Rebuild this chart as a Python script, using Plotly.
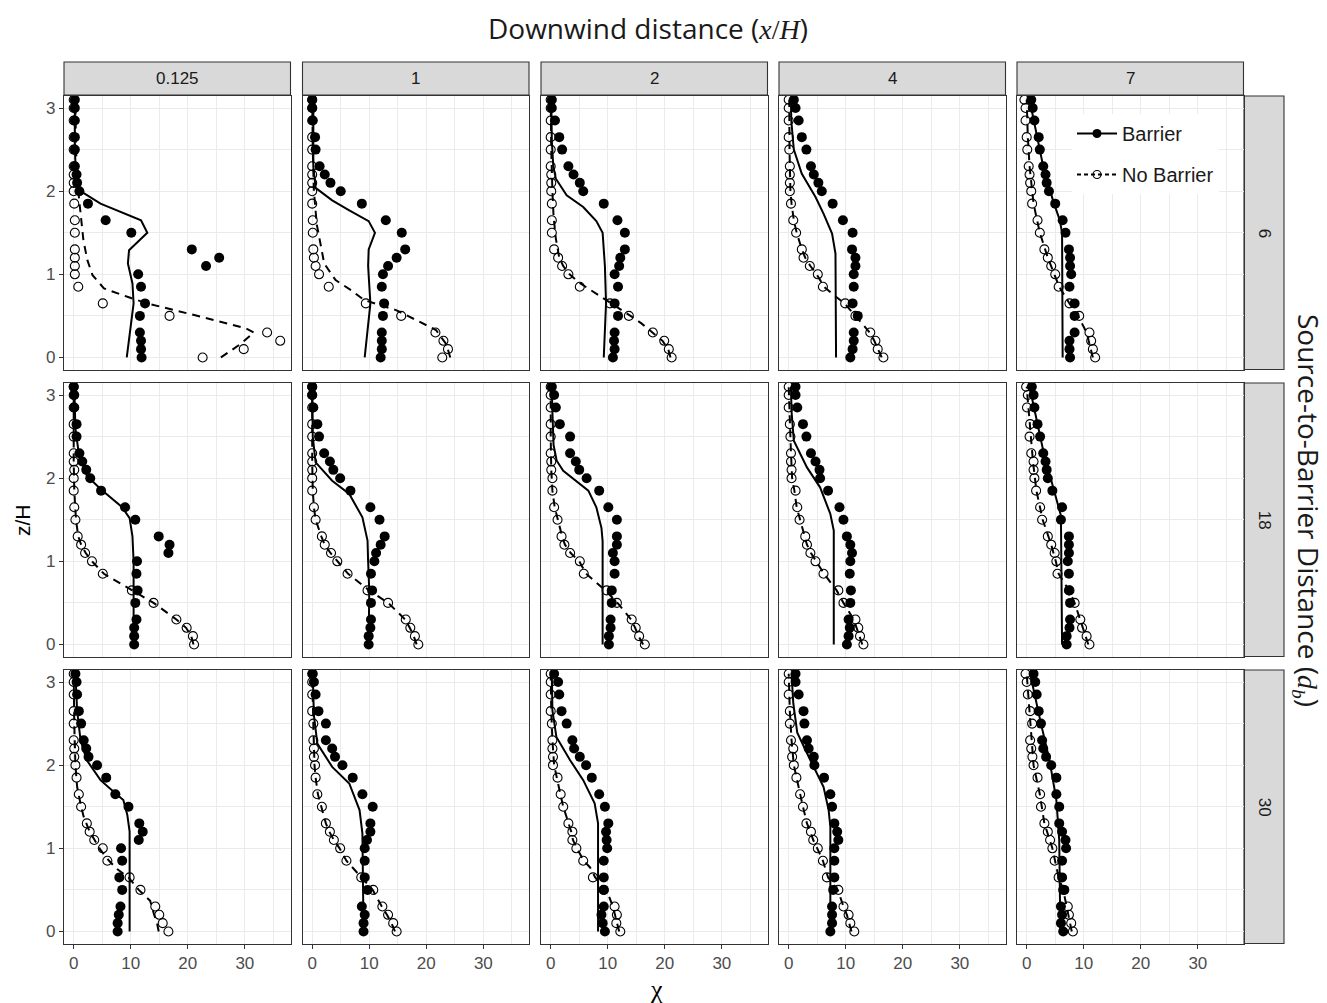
import plotly.graph_objects as go

# ---------------- data ----------------
col_labels = ["0.125", "1", "2", "4", "7"]          # downwind distance x/H
row_labels = ["6", "18", "30"]                      # source-to-barrier distance d_b
x_ticks = [0, 10, 20, 30]
y_ticks = [0, 1, 2, 3]

# measurement heights z/H (shared by all panels)
z_levels = [0, 0.1, 0.2, 0.3, 0.5, 0.65, 0.85, 1.0, 1.1, 1.2, 1.3, 1.5, 1.65,
            1.85, 2.0, 2.1, 2.2, 2.3, 2.5, 2.65, 2.85, 3.0, 3.1]

# measured chi, Barrier (filled) and No Barrier (open), per panel
barrier_pts_r1c1 = [11.9, 11.8, 11.8, 11.6, 11.6, 12.5, 11.8, 11.3, 23.2, 25.5, 20.7, 10.1, 5.6, 2.5, 1.0, 0.6, 0.5, 0.2, 0.2, 0.2, 0.2, 0.2, 0.2]
nobarrier_pts_r1c1 = [22.6, 29.8, 36.2, 33.9, 16.8, 5.1, 0.8, 0.2, 0.2, 0.2, 0.2, 0.2, 0.2, 0.1, 0.0, 0.0, 0, 0, 0, 0, 0, 0, 0]
barrier_pts_r1c2 = [12.0, 12.2, 12.2, 12.2, 12.4, 12.6, 12.2, 12.4, 13.3, 14.8, 16.3, 15.7, 12.9, 8.7, 5.0, 3.2, 2.2, 1.3, 0.6, 0.5, 0.1, 0.0, 0.0]
nobarrier_pts_r1c2 = [22.8, 23.8, 23.0, 21.6, 15.6, 9.4, 2.9, 1.2, 0.6, 0.3, 0.2, 0.1, 0.1, 0, 0, 0, 0, 0, 0, 0, 0, 0, 0]
barrier_pts_r1c3 = [10.9, 11.2, 11.1, 11.2, 11.8, 11.2, 11.8, 11.2, 12.0, 12.2, 13.0, 13.0, 11.7, 9.3, 5.7, 5.1, 4.0, 3.1, 2.0, 1.5, 0.75, 0.2, 0.2]
nobarrier_pts_r1c3 = [21.2, 20.7, 19.9, 17.9, 13.7, 10.4, 5.1, 3.1, 2.0, 1.3, 0.6, 0.2, 0.2, 0.2, 0.1, 0.1, 0.1, 0, 0, 0, 0, 0, 0]
barrier_pts_r1c4 = [10.8, 11.2, 11.4, 11.4, 12.1, 11.2, 11.4, 11.4, 11.7, 11.7, 11.1, 11.2, 9.5, 7.7, 5.8, 5.2, 4.4, 3.9, 3.1, 2.3, 1.75, 1.2, 0.9]
nobarrier_pts_r1c4 = [16.6, 15.6, 15.2, 14.3, 11.7, 9.9, 6.0, 5.1, 3.7, 2.6, 2.3, 1.3, 0.8, 0.4, 0.2, 0.2, 0.2, 0.2, 0.1, 0, 0, 0, 0]
barrier_pts_r1c5 = [7.6, 7.5, 7.5, 8.4, 8.4, 8.4, 7.5, 7.8, 7.6, 7.6, 7.4, 6.8, 6.3, 5.0, 3.9, 3.5, 3.3, 2.9, 2.3, 2.1, 1.35, 1.05, 0.8]
nobarrier_pts_r1c5 = [12.0, 11.6, 11.3, 11.0, 9.2, 7.5, 5.6, 5.0, 4.3, 3.7, 3.1, 2.3, 1.9, 0.95, 0.8, 0.6, 0.5, 0.35, 0.1, 0.0, -0.2, -0.2, -0.4]

barrier_pts_r2c1 = [10.6, 10.6, 10.6, 11.0, 10.8, 11.2, 11.0, 11.1, 16.6, 16.8, 14.9, 10.8, 9.0, 4.8, 2.9, 2.2, 1.5, 1.0, 0.5, 0.5, 0.1, 0.1, 0.0]
nobarrier_pts_r2c1 = [21.1, 20.9, 19.8, 18.0, 14.0, 10.2, 5.1, 3.2, 2.0, 1.3, 0.7, 0.3, 0.1, 0, 0, 0.1, 0, 0, 0, 0, 0, 0, 0]
barrier_pts_r2c2 = [9.9, 9.9, 10.2, 10.3, 10.3, 10.5, 10.3, 10.9, 11.2, 12.0, 12.7, 11.8, 10.2, 6.7, 4.9, 3.7, 3.1, 2.1, 1.2, 0.9, 0.2, 0.0, 0.0]
nobarrier_pts_r2c2 = [18.6, 18.0, 17.2, 16.4, 13.3, 9.7, 6.2, 4.4, 3.3, 2.2, 1.7, 0.6, 0.3, 0, 0, 0, 0, 0, 0, 0, 0, 0, 0]
barrier_pts_r2c3 = [10.2, 10.2, 10.5, 10.5, 10.7, 10.7, 11.2, 11.2, 10.9, 11.6, 11.6, 11.6, 10.1, 8.5, 6.3, 5.0, 4.4, 3.4, 3.4, 1.6, 0.9, 0.6, 0.2]
nobarrier_pts_r2c3 = [16.5, 15.5, 14.9, 14.2, 11.6, 9.8, 5.8, 5.1, 3.4, 2.4, 1.9, 1.2, 0.6, 0.3, 0.3, 0.1, 0.1, 0, 0, 0, 0, 0, 0]
barrier_pts_r2c4 = [10.2, 10.5, 10.7, 10.5, 10.8, 10.9, 10.7, 10.8, 11.1, 10.8, 10.2, 9.6, 8.9, 6.9, 5.5, 5.4, 4.7, 3.9, 3.1, 2.5, 1.5, 1.2, 1.2]
nobarrier_pts_r2c4 = [13.1, 12.5, 12.2, 11.7, 9.6, 8.7, 6.1, 4.7, 3.8, 3.2, 2.9, 1.9, 1.5, 1.2, 0.5, 0.5, 0.4, 0.4, 0.3, 0.2, 0, 0, 0]
barrier_pts_r2c5 = [7.0, 7.0, 7.5, 7.6, 7.6, 7.4, 7.4, 7.2, 7.4, 7.4, 7.4, 6.0, 6.2, 4.5, 3.7, 3.5, 3.3, 2.9, 2.35, 1.9, 1.35, 1.2, 0.9]
nobarrier_pts_r2c5 = [11.0, 10.5, 9.7, 9.4, 8.4, 7.5, 5.4, 5.2, 4.9, 4.3, 3.7, 2.7, 2.35, 1.65, 1.35, 1.2, 1.2, 0.8, 0.5, 0.6, 0.05, 0.2, -0.1]

barrier_pts_r3c1 = [7.7, 7.7, 7.9, 8.2, 8.5, 8.0, 8.5, 8.3, 11.4, 12.1, 11.5, 9.6, 7.3, 5.7, 4.1, 2.6, 2.2, 1.75, 1.3, 0.9, 0.6, 0.5, 0.3]
nobarrier_pts_r3c1 = [16.6, 15.6, 15.0, 14.3, 11.7, 9.8, 5.9, 5.1, 3.6, 2.8, 2.3, 1.3, 0.9, 0.5, 0.3, 0.1, 0.1, 0, 0, 0, 0, 0, 0]
barrier_pts_r3c2 = [9.0, 9.0, 9.2, 8.7, 9.7, 9.2, 9.2, 9.2, 9.6, 10.2, 10.2, 10.6, 8.8, 7.1, 5.3, 4.0, 3.5, 2.4, 2.4, 1.1, 0.6, 0.3, 0.1]
nobarrier_pts_r3c2 = [14.8, 14.2, 13.3, 12.3, 10.7, 8.6, 6.0, 4.9, 3.8, 3.1, 2.4, 1.7, 0.9, 0.6, 0.5, 0.3, 0.3, 0.2, 0.2, 0, 0, 0, 0]
barrier_pts_r3c3 = [9.5, 9.1, 8.9, 9.3, 9.3, 9.3, 9.3, 9.9, 9.8, 9.7, 10.1, 9.5, 8.5, 7.2, 6.2, 5.1, 4.1, 3.8, 2.8, 1.9, 1.5, 1.3, 0.6]
nobarrier_pts_r3c3 = [12.2, 11.5, 11.6, 11.2, 9.3, 7.4, 5.7, 4.5, 3.8, 3.8, 3.1, 2.2, 1.75, 1.2, 0.4, 0.4, 0.3, 0.3, 0.2, 0, 0, 0, 0]
barrier_pts_r3c4 = [7.3, 7.6, 7.6, 7.6, 7.8, 8.0, 8.0, 8.0, 8.7, 8.5, 8.0, 7.6, 7.3, 6.2, 4.5, 4.4, 3.5, 3.2, 2.75, 2.6, 1.75, 1.2, 1.2]
nobarrier_pts_r3c4 = [11.5, 10.8, 10.5, 9.6, 8.7, 6.7, 6.0, 5.1, 4.3, 3.9, 3.1, 2.5, 2.0, 1.35, 0.9, 0.6, 0.8, 0.4, 0.2, 0.2, 0, 0, 0]
barrier_pts_r3c5 = [6.4, 6.0, 6.2, 6.0, 6.6, 6.2, 6.2, 6.9, 6.8, 6.2, 5.7, 5.7, 5.2, 5.2, 4.3, 3.4, 2.9, 2.7, 2.5, 2.1, 1.75, 1.5, 1.2]
nobarrier_pts_r3c5 = [8.1, 7.8, 7.4, 7.2, 6.4, 5.6, 4.9, 4.5, 4.1, 3.7, 3.1, 2.5, 2.35, 1.9, 1.2, 1.0, 0.8, 0.6, 0.95, 0.6, 0.2, 0.0, -0.2]

# model curves as (z/H, chi) pairs
barrier_fit_r1c1 = [(0, 9.3), (0.33, 9.9), (0.65, 10.5), (0.89, 10.3), (1.13, 9.5), (1.29, 9.7), (1.5, 12.9), (1.65, 11.8), (1.85, 4.7), (2.0, 1.2), (2.2, 0.4), (2.5, 0.2), (3.1, 0.2)]
nobarrier_fit_r1c1 = [(0, 25.8), (0.15, 29.0), (0.3, 31.6), (0.35, 30.2), (0.49, 22.3), (0.57, 17.6), (0.65, 12.9), (0.73, 9.4), (0.83, 5.3), (0.99, 3.3), (1.17, 2.4), (1.41, 1.7), (1.63, 1.35), (1.83, 1.1), (2.0, 0.8), (2.5, 0.4), (3.1, 0.3)]
barrier_fit_r1c2 = [(0, 9.2), (0.3, 9.7), (0.65, 10.2), (1.1, 9.8), (1.3, 9.9), (1.5, 11.0), (1.64, 9.9), (1.77, 6.5), (1.89, 3.5), (2.04, 0.6), (2.3, 0.2), (3.1, 0.2)]
nobarrier_fit_r1c2 = [(0, 24.2), (0.16, 23.5), (0.33, 21.7), (0.45, 18.2), (0.57, 14.7), (0.69, 9.1), (0.81, 6.8), (0.93, 4.1), (1.13, 2.1), (1.35, 1.5), (1.6, 0.8), (2.0, 0.3), (2.5, 0.1), (3.1, 0.0)]
barrier_fit_r1c3 = [(0, 9.3), (0.65, 9.7), (1.1, 9.5), (1.5, 9.1), (1.64, 8.0), (1.81, 5.7), (1.95, 2.8), (2.15, 0.9), (2.3, 0.45), (2.6, 0.2), (3.1, 0.1)]
nobarrier_fit_r1c3 = [(0, 21.0), (0.1, 20.6), (0.2, 19.6), (0.33, 17.4), (0.41, 15.9), (0.5, 14.0), (0.65, 10.6), (0.77, 8.0), (0.9, 5.0), (1.0, 3.3), (1.1, 2.2), (1.2, 1.5), (1.43, 0.9), (1.7, 0.5), (2.0, 0.3), (2.5, 0.1), (3.1, 0.0)]
barrier_fit_r1c4 = [(0, 8.3), (1.0, 8.3), (1.25, 8.2), (1.49, 7.6), (1.73, 6.1), (1.93, 4.7), (2.21, 2.3), (2.5, 0.9), (2.85, 0.45), (3.1, 0.4)]
nobarrier_fit_r1c4 = [(0, 16.3), (0.1, 15.7), (0.2, 15.0), (0.3, 14.2), (0.45, 12.3), (0.65, 9.8), (0.75, 7.9), (0.85, 6.2), (1.0, 4.9), (1.1, 3.8), (1.2, 2.9), (1.3, 2.3), (1.5, 1.4), (1.65, 0.9), (1.85, 0.5), (2.0, 0.3), (2.5, 0.15), (3.1, 0.1)]
barrier_fit_r1c5 = [(0, 6.3), (1.3, 6.3), (1.5, 6.2), (1.65, 5.8), (1.89, 4.6), (2.33, 2.8), (2.65, 1.8), (3.1, 0.5)]
nobarrier_fit_r1c5 = [(0, 11.6), (0.3, 10.5), (0.5, 9.0), (0.65, 7.5), (0.85, 5.7), (1.0, 4.9), (1.2, 3.7), (1.5, 2.3), (1.85, 1.2), (2.3, 0.5), (2.65, 0.2), (3.1, 0.0)]

barrier_fit_r2c1 = [(0, 10.5), (1.0, 10.5), (1.3, 10.3), (1.52, 9.8), (1.65, 8.5), (1.87, 4.7), (2.03, 2.3), (2.29, 0.9), (2.6, 0.3), (3.1, 0.1)]
nobarrier_fit_r2c1 = [(0, 21.0), (0.1, 20.6), (0.2, 19.7), (0.3, 18.0), (0.5, 14.0), (0.65, 10.2), (0.85, 5.3), (1.0, 3.2), (1.1, 2.1), (1.2, 1.3), (1.3, 0.8), (1.5, 0.4), (1.85, 0.1), (2.2, 0.0), (3.1, 0.0)]
barrier_fit_r2c2 = [(0, 9.9), (0.65, 10.0), (1.0, 9.8), (1.25, 9.7), (1.53, 8.8), (1.81, 6.5), (1.97, 3.5), (2.19, 0.6), (2.5, 0.1), (3.1, 0.0)]
nobarrier_fit_r2c2 = [(0, 18.3), (0.1, 17.8), (0.2, 17.1), (0.3, 16.3), (0.5, 13.3), (0.65, 10.0), (0.85, 6.3), (1.0, 4.4), (1.1, 3.2), (1.2, 2.2), (1.3, 1.6), (1.5, 0.6), (1.65, 0.3), (1.85, 0.1), (2.2, 0), (3.1, 0)]
barrier_fit_r2c3 = [(0, 9.1), (1.24, 9.1), (1.4, 8.9), (1.65, 8.0), (1.85, 6.6), (1.97, 4.5), (2.09, 2.2), (2.21, 1.05), (2.4, 0.5), (2.8, 0.3), (3.1, 0.2)]
nobarrier_fit_r2c3 = [(0, 16.2), (0.1, 15.4), (0.2, 14.8), (0.3, 14.1), (0.5, 11.7), (0.65, 9.6), (0.85, 6.2), (1.0, 5.0), (1.1, 3.5), (1.2, 2.5), (1.3, 2.0), (1.5, 1.2), (1.65, 0.7), (1.85, 0.3), (2.1, 0.1), (2.5, 0.0), (3.1, 0.0)]
barrier_fit_r2c4 = [(0, 7.9), (1.37, 7.9), (1.57, 7.3), (1.89, 5.5), (2.13, 3.2), (2.45, 0.9), (2.8, 0.5), (3.1, 0.4)]
nobarrier_fit_r2c4 = [(0, 12.9), (0.1, 12.4), (0.2, 12.0), (0.3, 11.4), (0.5, 9.6), (0.65, 8.4), (0.85, 6.2), (1.0, 4.8), (1.1, 3.9), (1.2, 3.2), (1.3, 2.8), (1.5, 1.9), (1.65, 1.4), (1.85, 1.0), (2.0, 0.6), (2.3, 0.4), (2.65, 0.2), (3.1, 0.0)]
barrier_fit_r2c5 = [(0, 6.2), (1.4, 6.1), (1.55, 6.0), (2.3, 3.0), (3.1, 0.5)]
nobarrier_fit_r2c5 = [(0, 10.8), (0.2, 9.8), (0.3, 9.3), (0.5, 8.4), (0.65, 7.4), (0.85, 5.6), (1.0, 5.1), (1.2, 4.3), (1.5, 2.8), (1.85, 1.7), (2.2, 1.1), (2.65, 0.5), (3.1, 0.0)]

barrier_fit_r3c1 = [(0, 9.8), (1.2, 9.8), (1.4, 9.4), (1.58, 8.7), (1.68, 7.0), (1.82, 4.7), (2.06, 2.3), (2.3, 1.2), (2.66, 0.6), (3.1, 0.3)]
nobarrier_fit_r3c1 = [(0, 14.9), (0.1, 14.6), (0.2, 14.1), (0.37, 13.4), (0.5, 11.4), (0.65, 9.6), (0.75, 7.6), (0.85, 6.2), (0.98, 4.7), (1.1, 3.6), (1.2, 2.8), (1.38, 1.75), (1.5, 1.3), (1.74, 0.6), (2.0, 0.3), (2.5, 0.1), (3.1, 0.0)]
barrier_fit_r3c2 = [(0, 9.0), (1.0, 8.9), (1.18, 8.8), (1.46, 8.3), (1.78, 6.5), (1.98, 3.5), (2.26, 0.9), (2.6, 0.3), (3.1, 0.1)]
nobarrier_fit_r3c2 = [(0, 14.5), (0.1, 13.9), (0.2, 13.1), (0.3, 12.2), (0.5, 10.6), (0.65, 8.6), (0.85, 6.0), (1.0, 4.8), (1.1, 3.8), (1.2, 3.0), (1.3, 2.4), (1.5, 1.6), (1.65, 1.0), (1.85, 0.6), (2.0, 0.4), (2.5, 0.2), (3.1, 0.0)]
barrier_fit_r3c3 = [(0, 8.3), (1.3, 8.3), (1.54, 7.7), (1.82, 5.7), (2.06, 3.4), (2.34, 1.0), (2.66, 0.3), (3.1, 0.2)]
nobarrier_fit_r3c3 = [(0, 12.0), (0.1, 11.6), (0.2, 11.3), (0.3, 10.9), (0.46, 10.0), (0.65, 7.8), (0.77, 6.9), (0.85, 5.8), (1.0, 4.6), (1.1, 3.9), (1.2, 3.6), (1.38, 2.8), (1.5, 2.2), (1.65, 1.7), (1.85, 1.1), (2.0, 0.6), (2.3, 0.3), (2.65, 0.1), (3.1, 0.0)]
barrier_fit_r3c4 = [(0, 7.3), (1.26, 7.3), (1.46, 7.0), (1.74, 6.1), (2.06, 3.8), (2.39, 1.5), (2.75, 0.8), (3.1, 0.5)]
nobarrier_fit_r3c4 = [(0, 11.0), (0.1, 10.6), (0.2, 10.2), (0.3, 9.6), (0.5, 8.6), (0.65, 6.9), (0.85, 6.0), (1.0, 5.0), (1.1, 4.3), (1.2, 3.8), (1.3, 3.2), (1.5, 2.5), (1.65, 2.0), (1.85, 1.4), (2.0, 0.9), (2.3, 0.5), (2.65, 0.2), (3.1, 0.0)]
barrier_fit_r3c5 = [(0, 5.9), (0.85, 5.8), (1.1, 5.7), (1.58, 5.2), (2.06, 4.0), (2.5, 2.5), (3.1, 0.6)]
nobarrier_fit_r3c5 = [(0, 7.9), (0.2, 7.3), (0.5, 6.4), (0.65, 5.6), (1.0, 4.5), (1.3, 3.1), (1.65, 2.3), (2.0, 1.2), (2.5, 0.7), (3.1, 0.0)]

# ---------------- figure ----------------
W, H = 1327, 1003
col_left = [64, 302.5, 541, 779, 1017]
panel_w = 226.5
row_top = [96, 383, 670]
panel_h = 273.5
strip_top = (62, 95)
strip_right = (1244, 1284)

g = globals()
fig = go.Figure()
axis_font = dict(family="Liberation Sans, Arial", size=17, color="#4d4d4d")
grid_c = "#ebebeb"
ink = "#000000"

for r in range(3):
    for c in range(5):
        k = r * 5 + c + 1
        xa = "x" if k == 1 else f"x{k}"
        ya = "y" if k == 1 else f"y{k}"
        tag = f"r{r+1}c{c+1}"
        b_pts = g["barrier_pts_" + tag]
        nb_pts = g["nobarrier_pts_" + tag]
        b_fit = g["barrier_fit_" + tag]
        nb_fit = g["nobarrier_fit_" + tag]
        fig.add_trace(go.Scatter(x=nb_pts, y=z_levels, mode="markers", xaxis=xa, yaxis=ya,
                                 marker=dict(symbol="circle-open", size=9, color=ink, line=dict(width=1.1)),
                                 showlegend=False, hoverinfo="skip"))
        fig.add_trace(go.Scatter(x=b_pts, y=z_levels, mode="markers", xaxis=xa, yaxis=ya,
                                 marker=dict(symbol="circle", size=10, color=ink),
                                 showlegend=False, hoverinfo="skip"))
        fig.add_trace(go.Scatter(x=[p[1] for p in b_fit], y=[p[0] for p in b_fit], mode="lines",
                                 xaxis=xa, yaxis=ya, line=dict(color=ink, width=2),
                                 showlegend=False, hoverinfo="skip"))
        fig.add_trace(go.Scatter(x=[p[1] for p in nb_fit], y=[p[0] for p in nb_fit], mode="lines",
                                 xaxis=xa, yaxis=ya, line=dict(color=ink, width=2, dash="8px,6px"),
                                 showlegend=False, hoverinfo="skip"))

        x0 = col_left[c] / W
        x1 = (col_left[c] + panel_w) / W
        y1 = 1 - row_top[r] / H
        y0 = 1 - (row_top[r] + panel_h) / H
        bottom = r == 2
        left = c == 0
        xkey = "xaxis" if k == 1 else f"xaxis{k}"
        ykey = "yaxis" if k == 1 else f"yaxis{k}"
        fig.layout[xkey] = dict(domain=[x0, x1], anchor=ya, range=[-1.7, 38.0],
                                tickvals=x_ticks, showticklabels=bottom,
                                ticks="outside" if bottom else "", ticklen=4, tickcolor="#333333",
                                tickfont=axis_font, showgrid=True, gridcolor=grid_c, gridwidth=1.2,
                                minor=dict(tick0=0, dtick=5, showgrid=True, gridcolor=grid_c, gridwidth=0.7),
                                zeroline=False, showline=True, mirror=True, linecolor="#333333", linewidth=1.1,
                                fixedrange=True)
        fig.layout[ykey] = dict(domain=[y0, y1], anchor=xa, range=[-0.145, 3.145],
                                tickvals=y_ticks, showticklabels=left,
                                ticks="outside" if left else "", ticklen=4, tickcolor="#333333",
                                tickfont=axis_font, showgrid=True, gridcolor=grid_c, gridwidth=1.2,
                                minor=dict(tick0=0, dtick=0.5, showgrid=True, gridcolor=grid_c, gridwidth=0.7),
                                zeroline=False, showline=True, mirror=True, linecolor="#333333", linewidth=1.1,
                                fixedrange=True)

# legend entries
fig.add_trace(go.Scatter(x=[None], y=[None], mode="lines+markers", name="Barrier", legendgroup="a",
                         line=dict(color=ink, width=2), marker=dict(symbol="circle", size=9, color=ink)))
fig.add_trace(go.Scatter(x=[None], y=[None], mode="lines+markers", name="No Barrier", legendgroup="b",
                         line=dict(color=ink, width=2, dash="4px,3px"),
                         marker=dict(symbol="circle-open", size=8, color=ink, line=dict(width=1.1))))

shapes = []
annotations = []
strip_font = dict(family="Liberation Sans, Arial", size=17, color="#1a1a1a")
for c, lab in enumerate(col_labels):
    shapes.append(dict(type="rect", xref="paper", yref="paper",
                       x0=col_left[c] / W, x1=(col_left[c] + panel_w) / W,
                       y0=1 - strip_top[1] / H, y1=1 - strip_top[0] / H,
                       fillcolor="#d9d9d9", line=dict(color="#333333", width=1.1), layer="below"))
    annotations.append(dict(x=(col_left[c] + panel_w / 2) / W, y=1 - (sum(strip_top) / 2) / H,
                            xref="paper", yref="paper", text=lab, showarrow=False,
                            font=strip_font, xanchor="center", yanchor="middle"))
for r, lab in enumerate(row_labels):
    shapes.append(dict(type="rect", xref="paper", yref="paper",
                       x0=strip_right[0] / W, x1=strip_right[1] / W,
                       y0=1 - (row_top[r] + panel_h) / H, y1=1 - row_top[r] / H,
                       fillcolor="#d9d9d9", line=dict(color="#333333", width=1.1), layer="below"))
    annotations.append(dict(x=(sum(strip_right) / 2) / W, y=1 - (row_top[r] + panel_h / 2) / H,
                            xref="paper", yref="paper", text=lab, showarrow=False, textangle=90,
                            font=strip_font, xanchor="center", yanchor="middle"))

title_font = dict(family="Open Sans, Noto Sans", size=28, color="#1a1a1a")
annotations.append(dict(x=648 / W, y=1 - 28 / H, xref="paper", yref="paper", showarrow=False,
                        text="Downwind distance (<span style=\"font-family:Liberation Serif\"><i>x</i>/<i>H</i></span>)",
                        font=title_font, xanchor="center", yanchor="middle"))
annotations.append(dict(x=1308 / W, y=1 - 510 / H, xref="paper", yref="paper", showarrow=False,
                        text="Source-to-Barrier Distance (<span style=\"font-family:Liberation Serif\"><i>d</i><sub><i>b</i></sub></span>)",
                        font=title_font, textangle=90, xanchor="center", yanchor="middle"))
annotations.append(dict(x=22 / W, y=1 - 520 / H, xref="paper", yref="paper", showarrow=False,
                        text="z/H", font=dict(family="Liberation Sans, Arial", size=21, color="#000000"),
                        textangle=-90, xanchor="center", yanchor="middle"))
annotations.append(dict(x=656 / W, y=1 - 989 / H, xref="paper", yref="paper", showarrow=False,
                        text="χ", font=dict(family="Liberation Serif, DejaVu Serif", size=26, color="#000000"),
                        xanchor="center", yanchor="middle"))

fig.update_layout(
    width=W, height=H, margin=dict(l=0, r=0, t=0, b=0),
    paper_bgcolor="white", plot_bgcolor="white",
    shapes=shapes, annotations=annotations,
    showlegend=True,
    legend=dict(x=1072 / W, y=1 - 114 / H, xanchor="left", yanchor="top",
                bgcolor="white", borderwidth=0, traceorder="grouped", tracegroupgap=12,
                font=dict(family="Liberation Sans, Arial", size=20, color="#1a1a1a"),
                itemwidth=40),
)

fig.write_html("out.html")
